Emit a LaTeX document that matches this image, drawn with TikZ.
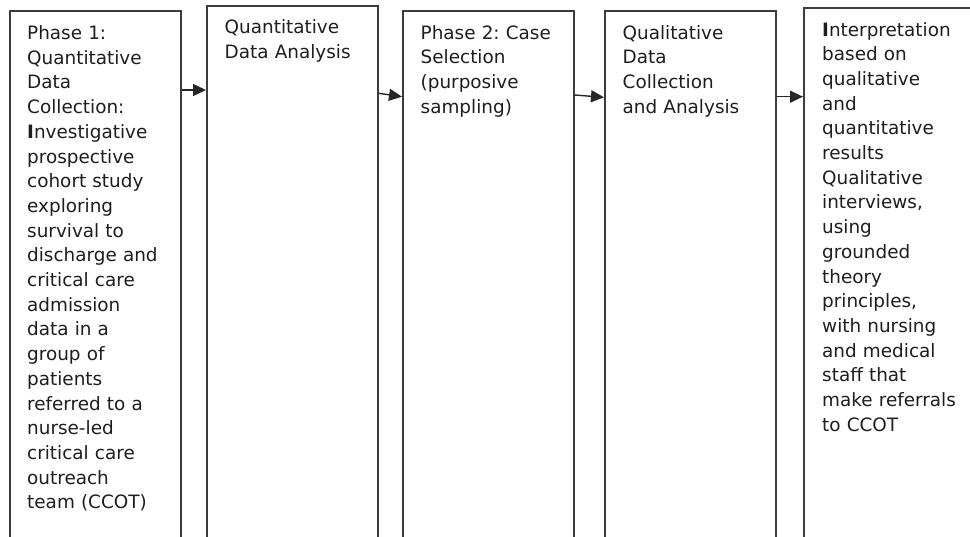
\documentclass[tikz,border=0pt]{standalone}
\usepackage{fontspec}
\setmainfont{DejaVu Sans}
\usetikzlibrary{arrows.meta}
\definecolor{boxline}{RGB}{60,60,60}
\definecolor{txtcol}{RGB}{30,30,30}
\tikzset{
  stagebox/.style={draw=boxline, line width=1.6pt, rectangle, anchor=north west,
    minimum width=171pt, minimum height=560pt, inner sep=0pt},
  stagetext/.style={anchor=base west, inner sep=0pt, text width=165pt, align=left,
    text=txtcol, font=\frenchspacing\fontsize{18.4}{24.7}\selectfont},
  flow/.style={draw=black!85, line width=1.4pt, -{Triangle[length=13pt,width=12pt]}}
}
\begin{document}
\begin{tikzpicture}[x=1pt,y=-1pt]
\clip (0,0) rectangle (970,536);
\fill[white] (0,0) rectangle (970,536);
% boxes
\node[stagebox] (b1) at (9,10) {};
\node[stagebox] (b2) at (206,5) {};
\node[stagebox] (b3) at (402,10) {};
\node[stagebox] (b4) at (604,10) {};
\node[stagebox] (b5) at (803,7) {};
% texts
\node[stagetext] (t1) at (27,39.5) {Phase 1:\\ Quantitative\\ Data\\ Collection:\\ \textbf{I}nvestigative\\ prospective\\ cohort study\\ exploring\\ survival to\\ discharge and\\ critical care\\ admission\\ data in a\\ group of\\ patients\\ referred to a\\ nurse-led\\ critical care\\ outreach\\ team (CCOT)};
\node[stagetext] (t2) at (224.5,33.5) {Quantitative\\ Data Analysis};
\node[stagetext] (t3) at (420.5,39) {Phase 2: Case\\ Selection\\ (purposive\\ sampling)};
\node[stagetext] (t4) at (622.5,39) {Qualitative\\ Data\\ Collection\\ and Analysis};
\node[stagetext] (t5) at (822,36) {\textbf{I}nterpretation\\ based on\\ qualitative\\ and\\ quantitative\\ results\\ Qualitative\\ interviews,\\ using\\ grounded\\ theory\\ principles,\\ with nursing\\ and medical\\ staff that\\ make referrals\\ to CCOT};
% arrows
\draw[flow] ([yshift=-80pt]b1.north east) -- ([yshift=-85pt]b2.north west);
\draw[flow] ([yshift=-88.3pt]b2.north east) -- ([yshift=-86.7pt]b3.north west);
\draw[flow] ([yshift=-85pt]b3.north east) -- ([yshift=-87.3pt]b4.north west);
\draw[flow] ([yshift=-86.7pt]b4.north east) -- ([yshift=-89.7pt]b5.north west);
\end{tikzpicture}
\end{document}
